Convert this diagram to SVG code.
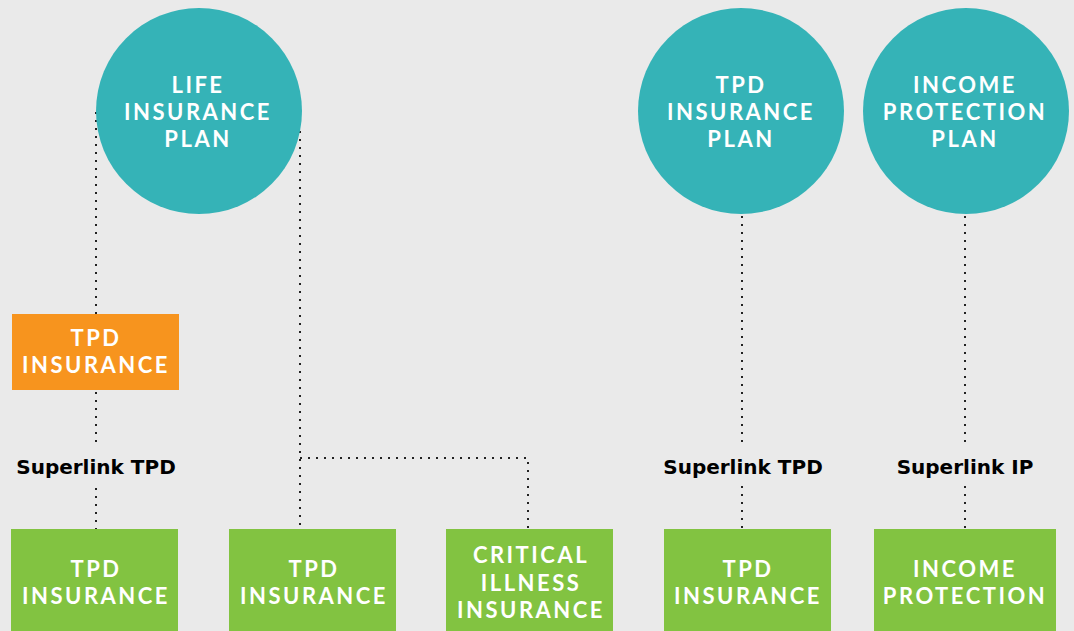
<svg xmlns="http://www.w3.org/2000/svg" width="1074" height="631" viewBox="0 0 1074 631">
<style>
.plan{fill:#35B3B7}
.rider{fill:#F7941E}
.cover{fill:#82C341}
.t{font-family:Lato,"Liberation Sans",sans-serif;font-weight:700;font-size:22px;fill:#fff;text-anchor:middle;letter-spacing:2.5px}
.lbl{font-family:"DejaVu Sans","Liberation Sans",sans-serif;font-weight:700;font-size:20px;fill:#000;text-anchor:middle}
.dot{fill:none;stroke:#222;stroke-width:2;stroke-dasharray:2 6}
</style>
<rect width="1074" height="631" fill="#EAEAEA"/>
<g id="connectors">
<path class="dot" d="M96,112 V314"/>
<path class="dot" d="M96,392 V444"/>
<path class="dot" d="M96,488 V529"/>
<path class="dot" d="M300,131 V529"/>
<path class="dot" d="M300,458 H528 V529"/>
<path class="dot" d="M742,216 V446"/>
<path class="dot" d="M742,486 V529"/>
<path class="dot" d="M965,216 V446"/>
<path class="dot" d="M965,486 V529"/>
</g>
<g id="life-plan"><circle class="plan" cx="199" cy="111" r="103"/><text class="t"><tspan x="198" y="93">LIFE</tspan><tspan x="198" y="120">INSURANCE</tspan><tspan x="198" y="147">PLAN</tspan></text></g>
<g id="tpd-plan"><circle class="plan" cx="741" cy="111" r="103"/><text class="t"><tspan x="741" y="93">TPD</tspan><tspan x="741" y="120">INSURANCE</tspan><tspan x="741" y="147">PLAN</tspan></text></g>
<g id="ip-plan"><circle class="plan" cx="966" cy="111" r="103"/><text class="t"><tspan x="965" y="93">INCOME</tspan><tspan x="965" y="120">PROTECTION</tspan><tspan x="965" y="147">PLAN</tspan></text></g>
<g id="tpd-rider"><rect class="rider" x="12" y="314" width="167" height="76"/><text class="t"><tspan x="96" y="346">TPD</tspan><tspan x="96" y="373">INSURANCE</tspan></text></g>
<g id="label-superlink-tpd-1"><text class="lbl" x="96" y="474">Superlink TPD</text></g>
<g id="label-superlink-tpd-2"><text class="lbl" x="743" y="474">Superlink TPD</text></g>
<g id="label-superlink-ip"><text class="lbl" x="965" y="474">Superlink IP</text></g>
<g id="superlink-tpd"><rect class="cover" x="11" y="529" width="167" height="102"/><text class="t"><tspan x="96" y="577">TPD</tspan><tspan x="96" y="604">INSURANCE</tspan></text></g>
<g id="tpd-insurance"><rect class="cover" x="229" y="529" width="167" height="102"/><text class="t"><tspan x="314" y="577">TPD</tspan><tspan x="314" y="604">INSURANCE</tspan></text></g>
<g id="critical-illness"><rect class="cover" x="446" y="529" width="167" height="102"/><text class="t"><tspan x="531" y="563">CRITICAL</tspan><tspan x="531" y="591">ILLNESS</tspan><tspan x="531" y="618">INSURANCE</tspan></text></g>
<g id="superlink-tpd-plan"><rect class="cover" x="664" y="529" width="167" height="102"/><text class="t"><tspan x="748" y="577">TPD</tspan><tspan x="748" y="604">INSURANCE</tspan></text></g>
<g id="superlink-ip"><rect class="cover" x="874" y="529" width="182" height="102"/><text class="t"><tspan x="965" y="577">INCOME</tspan><tspan x="965" y="604">PROTECTION</tspan></text></g>
</svg>
